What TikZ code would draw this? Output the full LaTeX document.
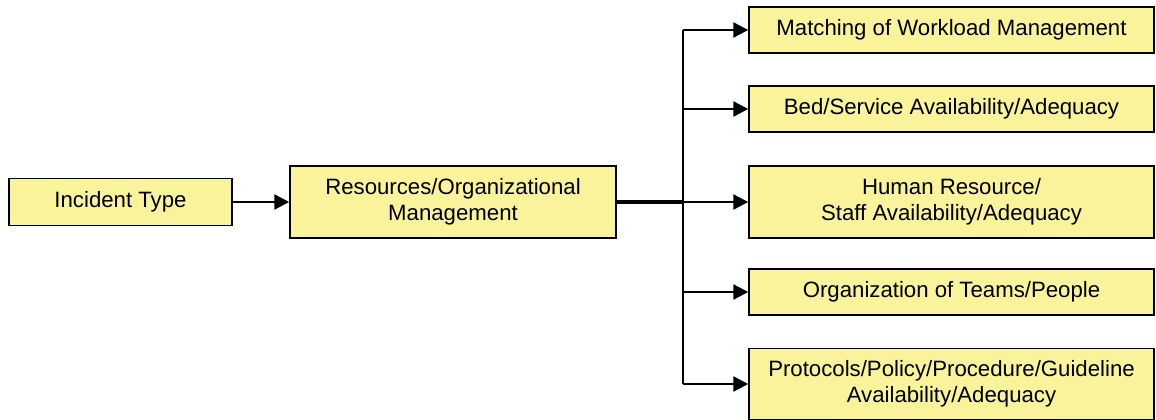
\documentclass[tikz,border=0pt]{standalone}
\usepackage{fontspec}
\setmainfont{Liberation Sans}
\usetikzlibrary{arrows.meta}
\definecolor{boxfill}{RGB}{249,243,155}
\tikzset{
  ybox/.style={draw=black, fill=boxfill, line width=1.5pt, inner sep=0pt, align=center,
    font=\fontsize{22.2}{26.5}\selectfont},
  conn/.style={line width=2.4pt, draw=black},
  arr/.style={conn, -{Triangle[length=15pt, width=15pt]}},
}
\begin{document}
\begin{tikzpicture}[x=1pt, y=-1pt]
\useasboundingbox (0,0) rectangle (1156,420);
\node[ybox, minimum width=223pt, minimum height=47pt] (inc) at (120.5,202) {Incident Type};
\node[ybox, minimum width=326pt, minimum height=72pt] (res) at (453,202) {Resources/Organizational\\Management};
\node[ybox, minimum width=405pt, minimum height=46pt] (b1) at (951.5,30) {Matching of Workload Management};
\node[ybox, minimum width=405pt, minimum height=46pt] (b2) at (951.5,109) {Bed/Service Availability/Adequacy};
\node[ybox, minimum width=405pt, minimum height=72pt] (b3) at (951.5,202) {Human Resource/\\Staff Availability/Adequacy};
\node[ybox, minimum width=405pt, minimum height=46pt] (b4) at (951.5,292) {Organization of Teams/People};
\node[ybox, minimum width=405pt, minimum height=71pt] (b5) at (951.5,384) {Protocols/Policy/Procedure/Guideline\\Availability/Adequacy};
\coordinate (j) at (683,202);
\draw[arr] (inc.east) -- (res.west);
\draw[conn, line width=3.8pt] (res.east) -- (j);
\draw[conn] (j |- b1.west) -- (j |- b5.west);
\draw[arr] (j) -- (b3.west);
\draw[arr] (j |- b1.west) -- (b1.west);
\draw[arr] (j |- b2.west) -- (b2.west);
\draw[arr] (j |- b4.west) -- (b4.west);
\draw[arr] (j |- b5.west) -- (b5.west);
\end{tikzpicture}
\end{document}
